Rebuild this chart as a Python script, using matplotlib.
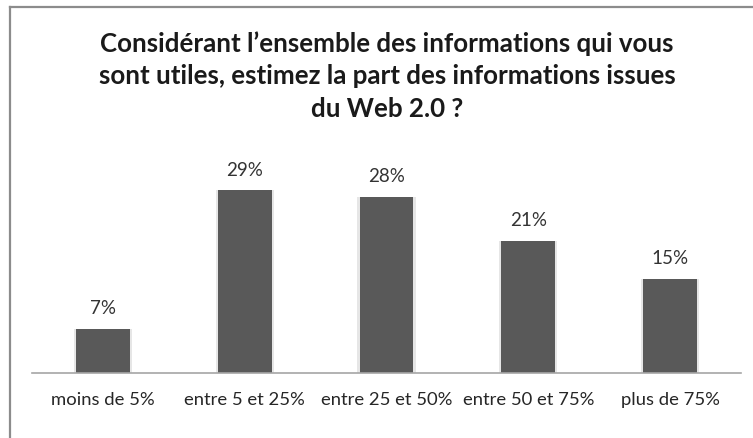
import matplotlib
matplotlib.use("Agg")
import matplotlib.pyplot as plt
from matplotlib.lines import Line2D

categories = ["moins de 5%", "entre 5 et 25%", "entre 25 et 50%", "entre 50 et 75%", "plus de 75%"]
values = [7, 29, 28, 21, 15]
title = "Considérant l\u2019ensemble des informations qui vous\nsont utiles, estimez la part des informations issues\ndu Web 2.0 ?"

plt.rcParams['font.family'] = ['Lato', 'DejaVu Sans']

W, H = 753, 438
fig = plt.figure(figsize=(W / 100, H / 100), dpi=100)
fig.patch.set_facecolor("white")

# figure frame (left and top only visible)
fig.add_artist(Line2D([9.5 / W, 9.5 / W], [0, 1 - 7 / H], color="#8c8c8c", lw=1.6, transform=fig.transFigure))
fig.add_artist(Line2D([9.5 / W, 1], [1 - 7 / H, 1 - 7 / H], color="#8c8c8c", lw=1.6, transform=fig.transFigure))

x0, x1 = 32, 741
y_base = 373
ymax = 30
px_per = 6.3
ax_h = ymax * px_per
ax = fig.add_axes([x0 / W, (H - y_base) / H, (x1 - x0) / W, ax_h / H])
ax.set_xlim(-0.5, len(categories) - 0.5)
ax.set_ylim(0, ymax)

xs = list(range(len(categories)))
# light shadow behind bars
ax.bar(xs, values, width=0.41, color="#e6e6e6", zorder=1)
ax.bar(xs, values, width=0.38, color="#595959", zorder=2)

for x, v in zip(xs, values):
    ax.annotate(f"{v}%", (x, v), xytext=(0, 14.5), textcoords="offset points",
                ha="center", va="center", fontsize=13.5, color="#333333")

for s in ["top", "right", "left"]:
    ax.spines[s].set_visible(False)
ax.spines["bottom"].set_color("#a6a6a6")
ax.spines["bottom"].set_linewidth(1.2)
ax.set_yticks([])
ax.set_xticks(xs)
ax.set_xticklabels(categories, fontsize=13.3, color="#262626")
ax.tick_params(axis="x", length=0, pad=14)
ax.patch.set_alpha(0)

fig.text(387 / W, 1 - 117 / H, title, ha="center", va="baseline", fontsize=18.6,
         fontweight="bold", color="#1a1a1a", linespacing=1.43, multialignment="center")

fig.savefig("out.png", dpi=100, facecolor="white")
